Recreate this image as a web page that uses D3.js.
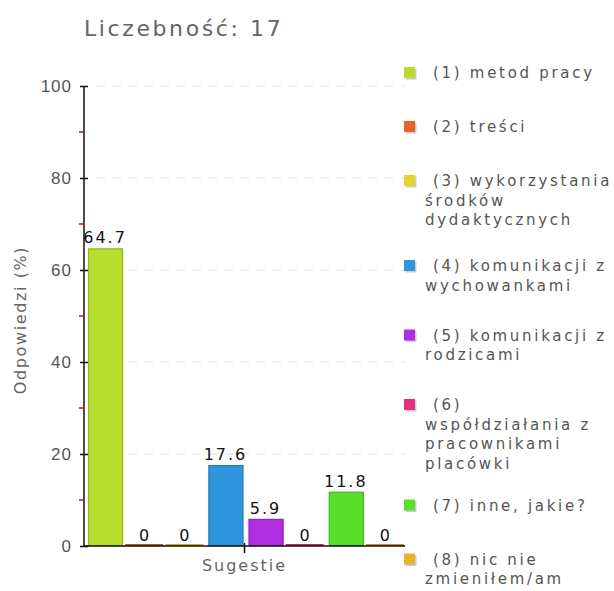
<!DOCTYPE html>
<html>
<head>
<meta charset="utf-8">
<script src="https://cdn.jsdelivr.net/npm/d3@7/dist/d3.min.js"></script>
<style>
  body { margin: 0; background: #fff; }
  svg { display: block; font-family: "DejaVu Sans", Verdana, sans-serif; }
</style>
</head>
<body>
<svg width="614" height="591"></svg>
<script>
// data
var categories = ['(1) metod pracy', '(2) treści', '(3) wykorzystania środków dydaktycznych',
  '(4) komunikacji z wychowankami', '(5) komunikacji z rodzicami',
  '(6) współdziałania z pracownikami placówki', '(7) inne, jakie?', '(8) nic nie zmieniłem/am'];
var legendLines = [
  ['(1) metod pracy'],
  ['(2) treści'],
  ['(3) wykorzystania', 'środków', 'dydaktycznych'],
  ['(4) komunikacji z', 'wychowankami'],
  ['(5) komunikacji z', 'rodzicami'],
  ['(6)', 'współdziałania z', 'pracownikami', 'placówki'],
  ['(7) inne, jakie?'],
  ['(8) nic nie', 'zmieniłem/am']
];
var values = [64.7, 0, 0, 17.6, 5.9, 0, 11.8, 0];
var colors = ['#b8dc2c', '#e8622a', '#e4d628', '#2e95de', '#b02ee2', '#e6307c', '#5ade2c', '#e8b22e'];
var yTicks = [0, 20, 40, 60, 80, 100];
var yMinor = [10, 30, 50, 70, 90];
var title = 'Liczebność: 17';
var xLabel = 'Sugestie';
var yLabel = 'Odpowiedzi (%)';

var svg = d3.select('svg');
var margin = {left: 84, right: 405, top: 86, bottom: 546};

var x = d3.scaleBand()
  .domain(d3.range(values.length))
  .range([margin.left, margin.right])
  .paddingInner(0);
var y = d3.scaleLinear()
  .domain([0, 100])
  .range([margin.bottom, margin.top]);

// title
svg.append('text')
  .attr('x', 84).attr('y', 36)
  .attr('fill', '#666')
  .style('font-size', '22px')
  .style('letter-spacing', '2.6px')
  .text(title);

// grid
svg.append('g').selectAll('line')
  .data(yTicks.filter(d => d > 0))
  .enter().append('line')
  .attr('x1', 97).attr('x2', 405)
  .attr('y1', d => y(d)).attr('y2', d => y(d))
  .attr('stroke', '#ddd')
  .attr('stroke-dasharray', '8,8');

// bars
var bw = x.bandwidth();
svg.append('g').selectAll('rect')
  .data(values)
  .enter().append('rect')
  .attr('x', (d, i) => d === 0 ? x(i) + 1 : x(i) + 4.5)
  .attr('width', d => d === 0 ? bw - 2 : bw - 6)
  .attr('y', d => d === 0 ? y(0) - 2 : y(d) + 0.5)
  .attr('height', d => d === 0 ? 2 : y(0) - y(d) - 1)
  .attr('fill', (d, i) => d === 0 ? d3.color(colors[i]).darker(0.5) : colors[i])
  .attr('stroke', (d, i) => d === 0 ? 'none' : d3.color(colors[i]).darker(0.6))
  .attr('stroke-width', 1.2);

// value labels
svg.append('g').selectAll('text')
  .data(values)
  .enter().append('text')
  .attr('x', (d, i) => x(i) + bw / 2 + 1)
  .attr('y', d => y(d) - 5)
  .attr('text-anchor', 'middle')
  .attr('fill', '#111')
  .style('font-size', '16px')
  .style('letter-spacing', '2px')
  .text(d => d);

// y axis
var yAxis = svg.append('g')
  .attr('transform', 'translate(' + margin.left + ',0)')
  .call(d3.axisLeft(y).tickValues(yTicks).tickSize(4).tickPadding(8));
yAxis.select('.domain').attr('stroke', '#111').attr('stroke-width', 1.5).attr('d', 'M0,' + y(0) + 'V' + y(100));
yAxis.selectAll('.tick line').attr('x1', -4).attr('x2', 4).attr('stroke', '#111').attr('stroke-width', 1.5);
yAxis.selectAll('.tick text').attr('fill', '#555').style('font-size', '17px').style('letter-spacing', '1px');

svg.append('g').selectAll('line')
  .data(yMinor)
  .enter().append('line')
  .attr('x1', margin.left - 5).attr('x2', margin.left)
  .attr('y1', d => y(d)).attr('y2', d => y(d))
  .attr('stroke', '#e00')
  .attr('stroke-width', 1.5);

// x axis
svg.append('line')
  .attr('x1', margin.left).attr('x2', margin.right)
  .attr('y1', y(0)).attr('y2', y(0))
  .attr('stroke', '#111').attr('stroke-width', 1.5);
var xMid = (margin.left + margin.right) / 2;
svg.append('line')
  .attr('x1', xMid).attr('x2', xMid)
  .attr('y1', y(0) - 3).attr('y2', y(0) + 7)
  .attr('stroke', '#111').attr('stroke-width', 1.5);
svg.append('text')
  .attr('x', xMid).attr('y', 571)
  .attr('text-anchor', 'middle')
  .attr('fill', '#666')
  .style('font-size', '16px')
  .style('letter-spacing', '2px')
  .text(xLabel);

svg.append('text')
  .attr('transform', 'translate(26,320) rotate(-90)')
  .attr('text-anchor', 'middle')
  .attr('fill', '#666')
  .style('font-size', '16px')
  .style('letter-spacing', '1.6px')
  .text(yLabel);

// legend
var ly = 67;
var legend = svg.append('g');
legendLines.forEach(function(lines, i) {
  var g = legend.append('g').attr('transform', 'translate(404,' + ly + ')');
  g.append('rect').attr('x', 1.5).attr('y', 1.5).attr('width', 11).attr('height', 11).attr('fill', '#ccc');
  g.append('rect').attr('width', 11).attr('height', 11).attr('fill', colors[i]);
  g.selectAll('text')
    .data(lines)
    .enter().append('text')
    .attr('x', (d, j) => j === 0 ? 29 : 21)
    .attr('y', (d, j) => 11 + j * 19.5)
    .attr('fill', '#555')
    .style('font-size', '15px')
    .style('letter-spacing', '2.7px')
    .text(d => d);
  ly += 54 + 15.5 * (lines.length - 1);
});
</script>
</body>
</html>
